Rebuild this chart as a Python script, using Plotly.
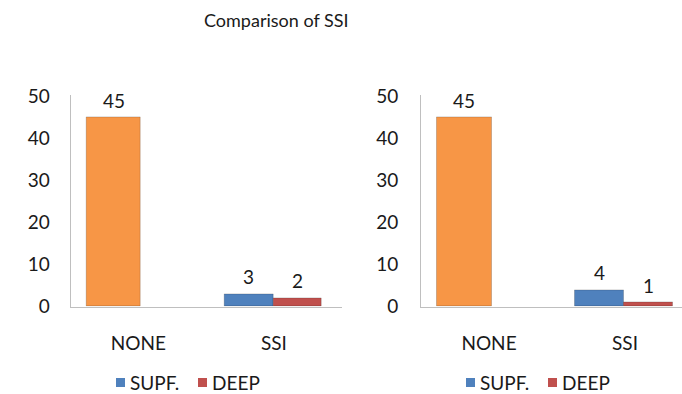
import plotly.graph_objects as go

# Categories and counts for the two panels
categories = ["NONE", "SSI"]
series_names = ["SUPF.", "DEEP"]

none_left = [45, None]
supf_left = [None, 3]
deep_left = [None, 2]

none_right = [45, None]
supf_right = [None, 4]
deep_right = [None, 1]

y_ticks = [0, 10, 20, 30, 40, 50]

title_text = "Comparison of SSI"

# Styling
W, H = 682, 394
FONT = "Lato"
TXT = "#1a1a1a"
AX = "#BFBFBF"
ORANGE = "#F79646"
BLUE = "#4F81BD"
RED = "#C0504D"
FS = 19

# bar geometry in category units: (offset, width)
BAR_GEOM = {
    "none": (-0.385, 0.405),
    "supf": (-0.365, 0.36),
    "deep": (-0.005, 0.36),
}


def px_x(px):
    return px / W


def px_y(py):
    return (H - py) / H


fig = go.Figure()
annotations = []


def add_panel(xa, ya, none_vals, supf_vals, deep_vals):
    for key, vals, color, name in [
        ("none", none_vals, ORANGE, "NONE"),
        ("supf", supf_vals, BLUE, series_names[0]),
        ("deep", deep_vals, RED, series_names[1]),
    ]:
        off, wid = BAR_GEOM[key]
        fig.add_trace(go.Bar(
            x=categories, y=vals, name=name,
            xaxis=xa, yaxis=ya,
            offset=off, width=wid,
            marker=dict(color=color, line=dict(color="rgba(0,0,0,0.18)", width=1)),
            showlegend=False,
        ))
        # value labels above each bar
        for i, v in enumerate(vals):
            if v is None:
                continue
            annotations.append(dict(
                x=i + off + wid / 2, y=v, xref=xa, yref=ya,
                text=str(v), showarrow=False, yanchor="bottom", yshift=4,
                font=dict(family=FONT, size=FS, color=TXT),
            ))


add_panel("x", "y", none_left, supf_left, deep_left)
add_panel("x2", "y2", none_right, supf_right, deep_right)

y_bottom = px_y(306.7)
y_top = px_y(95.4)

axis_common_y = dict(
    range=[0, 50.3], tickvals=y_ticks, showgrid=False, zeroline=False,
    showline=True, linecolor=AX, linewidth=1, automargin=False,
    ticks="outside", tickcolor="rgba(0,0,0,0)",
    tickfont=dict(family=FONT, size=FS, color=TXT),
    domain=[y_bottom, y_top],
)
axis_common_x = dict(
    type="category", showgrid=False, zeroline=False,
    showline=True, linecolor=AX, linewidth=1, automargin=False,
    ticks="outside", tickcolor="rgba(0,0,0,0)", ticklen=19,
    tickfont=dict(family=FONT, size=FS, color=TXT),
)

# Legends drawn under each panel
legend_layout = [
    # (swatch_x, text_x) pairs per series, left panel then right panel
    [(116, 128), (198, 210)],
    [(466, 478), (548, 560)],
]
shapes = []
for panel in legend_layout:
    for (sx, tx), name, color in zip(panel, series_names, [BLUE, RED]):
        shapes.append(dict(
            type="rect", xref="paper", yref="paper",
            x0=px_x(sx), x1=px_x(sx + 9), y0=px_y(387), y1=px_y(378),
            fillcolor=color, line=dict(width=0),
        ))
        annotations.append(dict(
            x=px_x(tx), y=px_y(382.5), xref="paper", yref="paper",
            text=name, showarrow=False, xanchor="left", yanchor="middle",
            font=dict(family=FONT, size=FS, color=TXT),
        ))

annotations.append(dict(
    x=px_x(276), y=px_y(20), xref="paper", yref="paper",
    text=title_text, showarrow=False, xanchor="center", yanchor="middle",
    font=dict(family=FONT, size=18, color=TXT),
))

fig.update_layout(
    width=W, height=H, autosize=False,
    margin=dict(l=0, r=0, t=0, b=0, pad=0, autoexpand=False),
    paper_bgcolor="white", plot_bgcolor="white",
    xaxis=dict(axis_common_x, domain=[px_x(70.7), px_x(341.7)], range=[-0.5, 1.5], anchor="y"),
    yaxis=dict(axis_common_y, ticklen=16, anchor="x"),
    xaxis2=dict(axis_common_x, domain=[px_x(421), 1.0], range=[-0.5, 1.419], anchor="y2"),
    yaxis2=dict(axis_common_y, ticklen=18, anchor="x2"),
    annotations=annotations,
    shapes=shapes,
    showlegend=False,
    bargap=0, bargroupgap=0,
)

fig.write_html("out.html")
